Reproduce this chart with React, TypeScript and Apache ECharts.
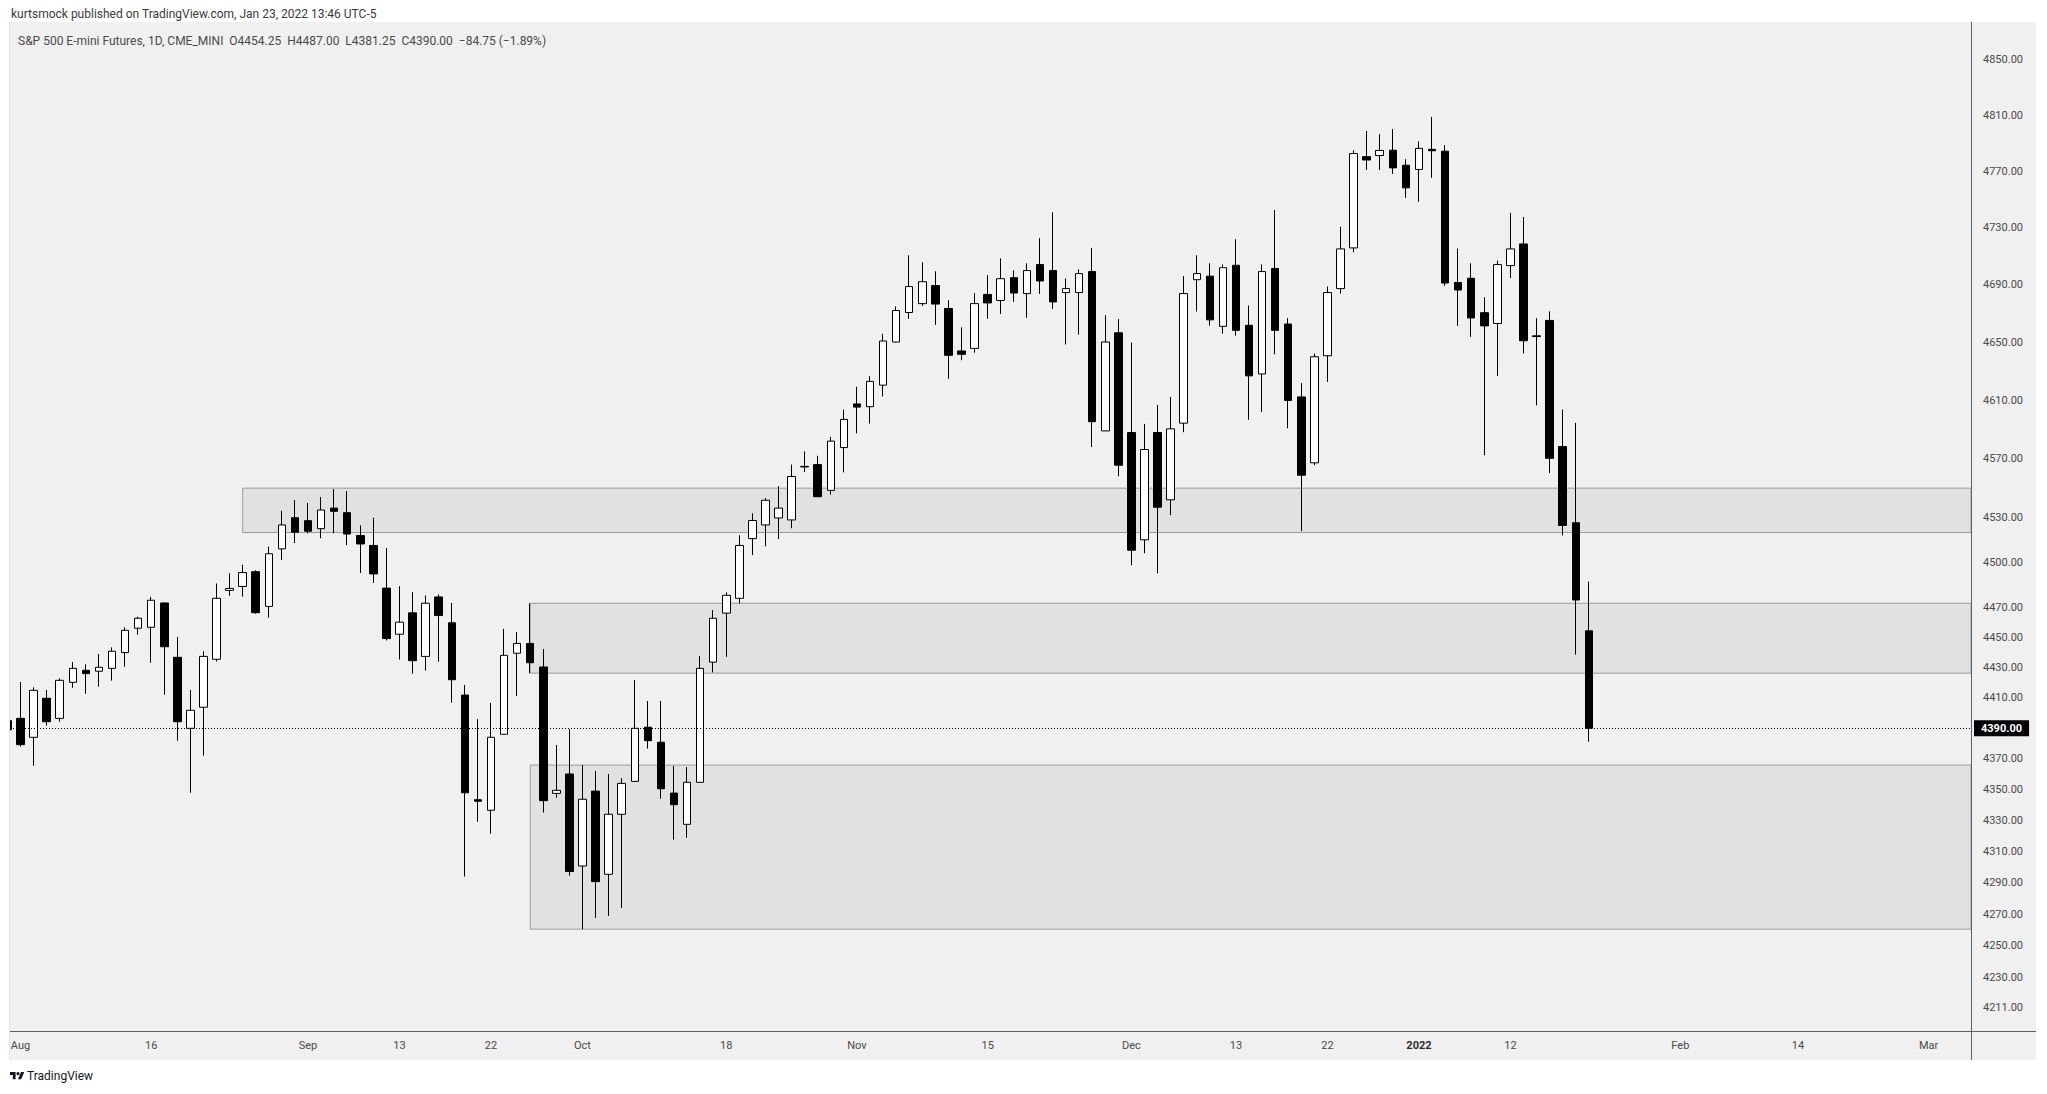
import React, { useEffect, useRef } from "react";
import * as echarts from "echarts";

// ---------- calendar (CME trading days; holidays without a daily bar) ----------
const HOLIDAYS = ["2021-09-06", "2021-11-25", "2021-12-24", "2022-01-17", "2022-02-21"];
const FIRST_DAY = "2021-07-30";
const LAST_DAY = "2022-03-04";

// ---------- OHLC (index 0 = Jul 30 2021, last = Jan 21 2022) ----------
const OPEN = [
  4395,
  4396.5, 4384.1, 4409.7, 4396.5, 4420.2, 4428.1, 4427.5, 4429.4, 4439.8, 4456,
  4456.6, 4472.8, 4436.7, 4390, 4403.8, 4435.4, 4481.2, 4483.8, 4493.7, 4470.5,
  4509, 4530, 4528, 4522.6, 4536.5, 4533.4, 4518, 4511.3, 4482.7, 4452,
  4466.2, 4437.3, 4476.8, 4459.6, 4411.8, 4343.5, 4336.7, 4386.1, 4439.4, 4445.9,
  4430.3, 4347.6, 4360.2, 4300.8, 4349.1, 4295.5, 4334.1, 4355.4, 4390.7, 4380.9,
  4347.8, 4327.6, 4354.8, 4433.5, 4466, 4475.9, 4515.9, 4525.1, 4529.8, 4528.5,
  4564.4, 4566, 4548.5, 4577.6, 4607.5, 4605.6, 4620.4, 4650.2, 4670.7, 4676.9,
  4689.5, 4673.5, 4644, 4645.8, 4683.3, 4679.1, 4695, 4683.9, 4704.2, 4700,
  4684.6, 4684.6, 4699.3, 4589, 4656.6, 4587.9, 4515.1, 4587.9, 4542.1, 4594.3,
  4693.6, 4696.1, 4661.1, 4703.7, 4661.8, 4628.1, 4701.5, 4662.7, 4612.3, 4567.2,
  4640.7, 4687.4, 4715.9, 4780.5, 4781.3, 4785.1, 4774.4, 4771.4, 4785.7, 4784.4,
  4691.6, 4694.6, 4670.6, 4663.1, 4703.5, 4718.7, 4654.5, 4665.2, 4578.3, 4526.6,
  4454.25,
];
const CLOSE = [
  4389,
  4379.3, 4414.9, 4394.3, 4421.5, 4429.4, 4425.9, 4430.1, 4440.7, 4454.6, 4462.6,
  4474.6, 4443.7, 4394.3, 4401.8, 4437.3, 4475.9, 4482.5, 4493.1, 4466.3, 4505.7,
  4525.1, 4520.2, 4520.9, 4535.2, 4534.3, 4519, 4512.3, 4492.2, 4449.1, 4460,
  4434.5, 4472.6, 4464.4, 4421.9, 4348, 4342.5, 4384.1, 4438, 4445.9, 4433.1,
  4342.9, 4349.6, 4297.3, 4343.8, 4290.8, 4334.1, 4354.1, 4390, 4381.9, 4350.6,
  4340.3, 4354.8, 4429.4, 4462.6, 4477.9, 4511.3, 4528.1, 4541.8, 4536.5, 4557.9,
  4564.8, 4544.2, 4582, 4596.9, 4605.3, 4623, 4650.9, 4672.1, 4688.8, 4692.2,
  4676.6, 4641, 4641.7, 4676.9, 4677.4, 4694.3, 4684.3, 4700, 4692.7, 4678.1,
  4687.4, 4697.9, 4595.3, 4650.2, 4565.6, 4508.1, 4576.3, 4537.1, 4590.4, 4683.9,
  4697.9, 4665.6, 4702, 4658.3, 4626.8, 4699.3, 4658.3, 4609.9, 4558.8, 4640,
  4684.6, 4715.2, 4782.7, 4778.1, 4784.9, 4772.5, 4758.3, 4786.4, 4784.7, 4691.3,
  4686.4, 4666.9, 4661.4, 4704.2, 4715.2, 4651.1, 4654, 4570.3, 4524.8, 4474.75,
  4390,
];
const HIGH = [
  4405,
  4420.4, 4416.9, 4415.1, 4422.8, 4433.6, 4432.1, 4438.9, 4443.3, 4456.6, 4463.6,
  4476.8, 4473, 4450.2, 4415.1, 4440.7, 4485.8, 4492.6, 4498.4, 4494.6, 4510.5,
  4534.7, 4542, 4540, 4544, 4549.4, 4548, 4524.8, 4530, 4509.5, 4484,
  4480, 4477.8, 4478.5, 4472.8, 4418.4, 4396, 4406.6, 4455.5, 4453.5, 4472.6,
  4442.2, 4379.1, 4389.5, 4366, 4362.1, 4360.2, 4357.4, 4421.7, 4407.9, 4407.9,
  4365.4, 4364.7, 4437.5, 4468.1, 4479.9, 4518.2, 4533, 4543.2, 4551.4, 4566,
  4575, 4572, 4585, 4603.5, 4619.2, 4626.6, 4655.9, 4675, 4710.7, 4705.8,
  4699.5, 4679.3, 4660.4, 4684.2, 4696.8, 4708.6, 4700.1, 4705.1, 4722.8, 4741,
  4694.5, 4700.8, 4715.9, 4668.9, 4666.1, 4649.8, 4593.8, 4606.8, 4612.3, 4696.1,
  4710.7, 4705.1, 4704.3, 4722, 4675.6, 4704.3, 4742.6, 4666.8, 4621.8, 4642.2,
  4688.9, 4730.8, 4785.1, 4798.8, 4796.6, 4800.2, 4778.7, 4791.4, 4808.8, 4788.7,
  4715.4, 4705.1, 4681.3, 4707, 4740.6, 4737.7, 4666.7, 4671.5, 4603.6, 4594.5,
  4487,
];
const LOW = [
  4378,
  4378, 4365.6, 4391.7, 4394.3, 4416.6, 4412.7, 4417.3, 4421.3, 4430.5, 4451.7,
  4433.1, 4412, 4381.9, 4348, 4372.1, 4433.9, 4477.6, 4477, 4465.6, 4463,
  4501.5, 4512.9, 4519.5, 4516.2, 4519.5, 4511.6, 4492.8, 4486.2, 4447.8, 4435.2,
  4425.9, 4427.9, 4433.8, 4406.8, 4294, 4329.3, 4321.6, 4386, 4411.2, 4426.2,
  4335.2, 4344.8, 4294.6, 4260.5, 4267.6, 4268.9, 4274, 4355, 4376.7, 4344.2,
  4317.7, 4319, 4354.5, 4426.7, 4437, 4472.4, 4504.9, 4510.7, 4515.6, 4522.9,
  4561, 4544, 4545.6, 4560.7, 4587.3, 4594, 4612.7, 4650, 4666.3, 4675.2,
  4662.1, 4624.8, 4637.6, 4642.8, 4666.3, 4669.7, 4678.1, 4667, 4683.7, 4673.2,
  4648.5, 4655.3, 4578, 4589, 4558.1, 4498, 4506.1, 4492.6, 4531.7, 4588.1,
  4671.4, 4661.5, 4656, 4654.6, 4596.6, 4601.9, 4641.7, 4590.8, 4520.9, 4565.6,
  4622.6, 4683.9, 4712.8, 4771, 4771, 4768.2, 4751.2, 4748.4, 4765.4, 4689.2,
  4661.4, 4653.8, 4572.3, 4626.8, 4694.8, 4642.3, 4606.5, 4560.3, 4518.1, 4438.5,
  4381.25,
];

const LAST_PRICE = 4390;

// ---------- zones (rectangles drawn on the chart) ----------
const ZONE_START = ["2021-08-25", "2021-09-27", "2021-09-27"];
const ZONE_TOP = [4550, 4472.6, 4366];
const ZONE_BOTTOM = [4520, 4426.2, 4260.5];

// ---------- axis ticks ----------
const Y_TICKS = [4850, 4810, 4770, 4730, 4690, 4650, 4610, 4570, 4530, 4500, 4470, 4450, 4430, 4410,
  4370, 4350, 4330, 4310, 4290, 4270, 4250, 4230, 4211];
const X_TICK_DATES = ["2021-08-02", "2021-08-16", "2021-09-01", "2021-09-13", "2021-09-22", "2021-10-01",
  "2021-10-18", "2021-11-01", "2021-11-15", "2021-12-01", "2021-12-13", "2021-12-22", "2022-01-03",
  "2022-01-12", "2022-02-01", "2022-02-14", "2022-03-01"];
const X_TICK_LABELS = ["Aug", "16", "Sep", "13", "22", "Oct", "18", "Nov", "15", "Dec", "13", "22", "2022",
  "12", "Feb", "14", "Mar"];

const HEADER_1 = "kurtsmock published on TradingView.com, Jan 23, 2022 13:46 UTC-5";
const HEADER_2 = "S&P 500 E-mini Futures, 1D, CME_MINI  O4454.25  H4487.00  L4381.25  C4390.00  \u221284.75 (\u22121.89%)";

// ---------- layout ----------
const X_MIN = 0.197;
const X_MAX = 150.24;
const Y_MIN = 4196.3;
const Y_MAX = 4876.7;
const FONT = "Roboto, 'Noto Sans', sans-serif";

function tradingDays(): string[] {
  const out: string[] = [];
  const d = new Date(FIRST_DAY + "T12:00:00Z");
  const end = new Date(LAST_DAY + "T12:00:00Z");
  while (d <= end) {
    const wd = d.getUTCDay();
    const s = d.toISOString().slice(0, 10);
    if (wd !== 0 && wd !== 6 && HOLIDAYS.indexOf(s) < 0) out.push(s);
    d.setUTCDate(d.getUTCDate() + 1);
  }
  return out;
}

function buildOption(): any {
  const days = tradingDays();
  const tickIdx = X_TICK_DATES.map((d) => days.indexOf(d));
  const data = OPEN.map((o, i) => [i, Math.log(o), Math.log(CLOSE[i]), Math.log(LOW[i]), Math.log(HIGH[i])]);
  const zones = ZONE_START.map((d, i) => [
    { xAxis: days.indexOf(d), yAxis: Math.log(ZONE_TOP[i]) },
    { xAxis: X_MAX, yAxis: Math.log(ZONE_BOTTOM[i]) },
  ]);

  const logo = {
    type: "group",
    x: 10,
    y: 1070.5,
    scaleX: 0.4,
    scaleY: 0.4,
    silent: true,
    z: 102,
    children: [
      { type: "polygon", z: 102, shape: { points: [[0, 4], [14, 4], [14, 22], [7, 22], [7, 11], [0, 11]] }, style: { fill: "#131722" } },
      { type: "polygon", z: 102, shape: { points: [[20, 22], [27.5, 4], [35.5, 4], [28, 22]] }, style: { fill: "#131722" } },
      { type: "circle", z: 102, shape: { cx: 20, cy: 8, r: 4 }, style: { fill: "#131722" } },
    ],
  };

  return {
    animation: false,
    backgroundColor: "#f0f0f0",
    textStyle: { fontFamily: FONT },
    grid: { left: 10, right: 76, top: 23, bottom: 63, containLabel: false },
    xAxis: {
      type: "value",
      min: X_MIN,
      max: X_MAX,
      axisLine: { show: false },
      axisTick: { show: false },
      splitLine: { show: false },
      axisLabel: {
        customValues: tickIdx,
        color: "#4a4a4a",
        fontSize: 11,
        fontFamily: FONT,
        margin: 9,
        formatter: (v: number) => {
          const j = tickIdx.indexOf(Math.round(v));
          const t = j >= 0 ? X_TICK_LABELS[j] : "";
          return t === "2022" ? "{b|" + t + "}" : t;
        },
        rich: { b: { fontWeight: "bold", color: "#2a2a2a", fontSize: 11, fontFamily: FONT } },
      },
    },
    yAxis: [
      {
        type: "value",
        position: "right",
        min: Math.log(Y_MIN),
        max: Math.log(Y_MAX),
        axisLine: { show: false },
        axisTick: { show: false },
        splitLine: { show: false },
        axisLabel: {
          customValues: Y_TICKS.map((t) => Math.log(t)),
          formatter: (v: number) => Math.exp(v).toFixed(2),
          color: "#4a4a4a",
          fontSize: 11,
          fontFamily: FONT,
          margin: 12,
        },
      },
      {
        type: "value",
        position: "right",
        min: Math.log(Y_MIN),
        max: Math.log(Y_MAX),
        axisLine: { show: false },
        axisTick: { show: false },
        splitLine: { show: false },
        axisLabel: {
          customValues: [Math.log(LAST_PRICE)],
          formatter: (v: number) => Math.exp(v).toFixed(2),
          color: "#ffffff",
          backgroundColor: "#000000",
          padding: [3, 7, 2, 7],
          fontSize: 11,
          fontWeight: "bold",
          fontFamily: FONT,
          margin: 3,
        },
      },
    ],
    series: [
      {
        type: "candlestick",
        data,
        barWidth: 8,
        clip: true,
        itemStyle: {
          color: "#ffffff",
          color0: "#000000",
          borderColor: "#000000",
          borderColor0: "#000000",
          borderWidth: 1,
        },
        markArea: {
          silent: true,
          label: { show: false },
          itemStyle: { color: "#e1e1e1", borderColor: "#9c9c9c", borderWidth: 1 },
          data: zones,
        },
        markLine: {
          silent: true,
          precision: 12,
          symbol: ["none", "none"],
          label: { show: false },
          lineStyle: { color: "#000000", width: 1, type: [1, 2] },
          data: [{ yAxis: Math.log(LAST_PRICE) }],
        },
      },
    ],
    graphic: [
      { type: "rect", silent: true, z: 100, shape: { x: 0, y: 0, width: 2047, height: 22 }, style: { fill: "#ffffff" } },
      { type: "rect", silent: true, z: 100, shape: { x: 0, y: 1060, width: 2047, height: 34 }, style: { fill: "#ffffff" } },
      { type: "rect", silent: true, z: 100, shape: { x: 0, y: 0, width: 9, height: 1094 }, style: { fill: "#ffffff" } },
      { type: "rect", silent: true, z: 100, shape: { x: 2036, y: 0, width: 11, height: 1094 }, style: { fill: "#ffffff" } },
      { type: "line", silent: true, z: 101, shape: { x1: 9.5, y1: 22, x2: 9.5, y2: 1060 }, style: { stroke: "#e0e3eb", lineWidth: 1 } },
      { type: "line", silent: true, z: 101, shape: { x1: 1971.5, y1: 22, x2: 1971.5, y2: 1060 }, style: { stroke: "#5d606b", lineWidth: 1 } },
      { type: "line", silent: true, z: 101, shape: { x1: 10, y1: 1031.5, x2: 2036, y2: 1031.5 }, style: { stroke: "#5d606b", lineWidth: 1 } },
      { type: "text", silent: true, z: 102, x: 11, y: 14, style: { text: HEADER_1, fill: "#3a3a3a", fontSize: 12, fontFamily: FONT, verticalAlign: "middle" } },
      { type: "text", silent: true, z: 102, x: 18, y: 40.5, style: { text: HEADER_2, fill: "#4a4a4a", fontSize: 12, fontFamily: FONT, verticalAlign: "middle" } },
      logo,
      { type: "text", silent: true, z: 102, x: 27, y: 1076, style: { text: "TradingView", fill: "#131722", fontSize: 12, fontFamily: FONT, verticalAlign: "middle" } },
    ],
  };
}

export default function App() {
  const ref = useRef<HTMLDivElement>(null);
  useEffect(() => {
    if (!ref.current) return;
    const chart = echarts.init(ref.current, null, { renderer: "svg" });
    chart.setOption(buildOption());
    return () => chart.dispose();
  }, []);
  return <div ref={ref} style={{ position: "absolute", left: 0, top: 0, width: 2047, height: 1094 }} />;
}
